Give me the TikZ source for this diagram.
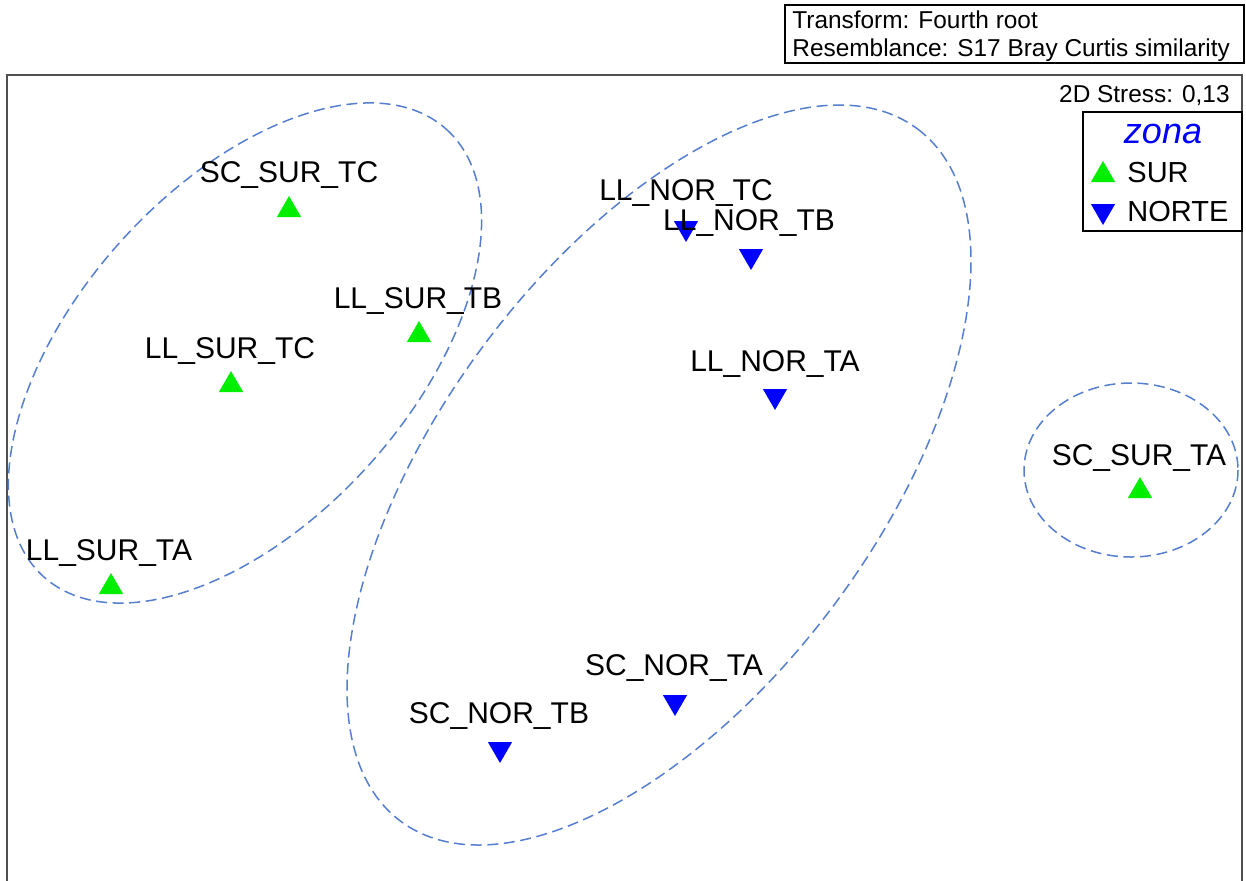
\documentclass[tikz,border=0pt]{standalone}
\usepackage{fontspec}
\setmainfont{Liberation Sans}
\usetikzlibrary{shapes.geometric}
\definecolor{ringblue}{RGB}{86,126,206}
\definecolor{surgreen}{RGB}{0,238,0}
\definecolor{norblue}{RGB}{0,0,255}
\definecolor{framegray}{RGB}{80,80,80}
\begin{document}
\begin{tikzpicture}[x=0.5pt, y=-0.5pt,
	sur/.style={regular polygon, regular polygon sides=3, minimum size=14pt, inner sep=0pt, fill=surgreen},
	nor/.style={sur, fill=norblue, shape border rotate=180},
	sample/.style={inner sep=0pt, font=\fontsize{15}{18}\selectfont},
	info/.style={inner sep=0pt, font=\fontsize{12.2}{14}\selectfont},
	keytext/.style={inner sep=0pt, anchor=west, font=\fontsize{14.5}{17}\selectfont},
	ring/.style={ringblue, dash pattern=on 5.5pt off 2.8pt, line width=0.75pt}]
		\useasboundingbox (0,0) rectangle (1246,880);
		% plot frame
		\draw[framegray, line width=1.2pt] (7,900) -- (7,75) -- (1242,75) -- (1242,900);

		% groups
		\draw[ring, rotate around={48:(245,353)}] (245,353) ellipse [x radius=301, y radius=167];
		\draw[ring, rotate around={53.25:(659,475)}] (659,475) ellipse [x radius=432, y radius=218];
		\draw[ring] (1131,470) ellipse [x radius=107, y radius=87];

		% SUR samples
		\node[sur] (scsurtc) at (289,210) {};
		\node[sur] (llsurtb) at (419,335) {};
		\node[sur] (llsurtc) at (231,385) {};
		\node[sur] (llsurta) at (111,587) {};
		\node[sur] (scsurta) at (1140,491) {};
		\node[sample] (scsurtc-l) at (289,175) {SC\_SUR\_TC};
		\node[sample] (llsurtb-l) at (418,301) {LL\_SUR\_TB};
		\node[sample] (llsurtc-l) at (230,351) {LL\_SUR\_TC};
		\node[sample] (llsurta-l) at (109,553) {LL\_SUR\_TA};
		\node[sample] (scsurta-l) at (1139,458) {SC\_SUR\_TA};

		% NORTE samples
		\node[nor] (llnortc) at (686,228) {};
		\node[nor] (llnortb) at (751,256) {};
		\node[nor] (llnorta) at (775,396) {};
		\node[nor] (scnorta) at (675,702) {};
		\node[nor] (scnortb) at (500,749) {};
		\node[sample] (llnortc-l) at (686,193) {LL\_NOR\_TC};
		\node[sample] (llnortb-l) at (749,223) {LL\_NOR\_TB};
		\node[sample] (llnorta-l) at (775,364) {LL\_NOR\_TA};
		\node[sample] (scnorta-l) at (674,668) {SC\_NOR\_TA};
		\node[sample] (scnortb-l) at (499,716) {SC\_NOR\_TB};

		% stress and legend
		\node[info, anchor=east] (stress) at (1230,96) {2D Stress: 0,13};
		\draw[fill=white, line width=1pt] (1083,112) rectangle (1242,231);
		\node[inner sep=0pt, norblue, font=\fontsize{18}{20}\selectfont\itshape] (zona) at (1163,134) {zona};
		\node[sur] (keysur) at (1103,175) {};
		\node[nor] (keynor) at (1103,211) {};
		\node[keytext] (keysur-l) at (1127,173) {SUR};
		\node[keytext] (keynor-l) at (1127,212) {NORTE};

		% header
		\draw[line width=1pt] (785,5) rectangle (1244,63);
		\node[info, anchor=west] (transform) at (792,20) {Transform: Fourth root};
		\node[info, anchor=west] (resemblance) at (792,50) {Resemblance: S17 Bray Curtis similarity};
	\end{tikzpicture}
\end{document}
